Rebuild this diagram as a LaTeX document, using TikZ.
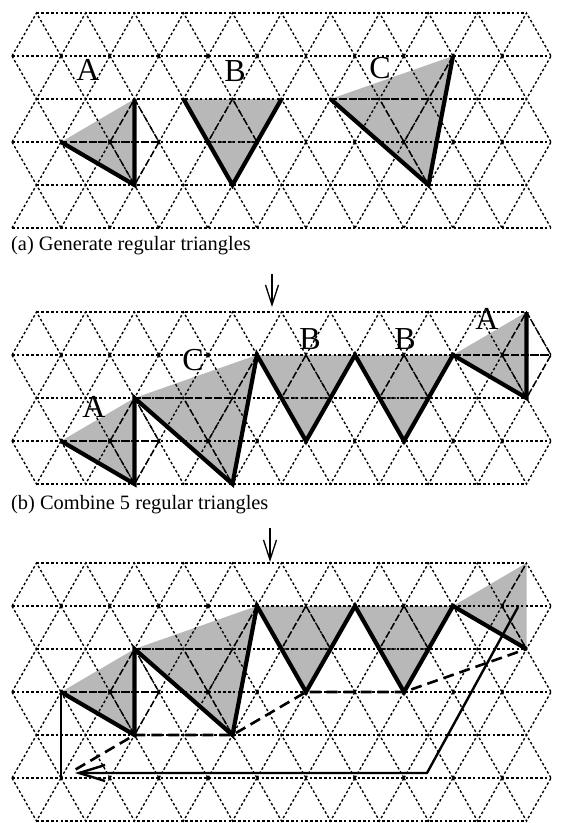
\documentclass[tikz,border=0pt]{standalone}
\usepackage{fontspec}
\setmainfont{Liberation Serif}
\usetikzlibrary{arrows.meta}

% triangular lattice, #1 = number of triangle rows
\newcommand{\trigrid}[1]{%
  \foreach \j in {0,...,#1} {
    \pgfmathsetmacro{\xs}{mod(\j,2)==0 ? 0.5 : 0}
    \pgfmathsetmacro{\xe}{mod(\j,2)==0 ? 10.5 : 11}
    \draw[gridline] (\xs,\j) -- (\xe,\j);
  }
  \pgfmathtruncatemacro{\lastrow}{#1-1}
  \foreach \j in {0,...,\lastrow} {
    \pgfmathtruncatemacro{\rowodd}{mod(\j,2)==1 ? \j : \j+1}
    \pgfmathtruncatemacro{\roweven}{mod(\j,2)==0 ? \j : \j+1}
    \foreach \k in {0,...,10} {
      \draw[gridline] (\k,\rowodd) -- (\k+0.5,\roweven) -- (\k+1,\rowodd);
    }
  }
}

\begin{document}
\begin{tikzpicture}[x=1pt, y=-1pt,
    gridline/.style={line width=1.35pt, dash pattern=on 2.6pt off 2.2pt},
    stipple/.style={fill=black!28},
    rim/.style={line width=4.2pt, line join=miter, miter limit=4},
    guideline/.style={line width=1.4pt, dash pattern=on 6pt off 4pt},
    tag/.style={font=\fontsize{32}{34}\selectfont, inner sep=0pt},
    capt/.style={font=\fontsize{20.4}{22}\selectfont, anchor=west, inner sep=0pt},
    panel/.style={x={(49pt,0pt)}, y={(0pt,-43pt)}},
    step arrow/.style={line width=1.3pt, -{Straight Barb[length=20pt,width=13pt]}}]
\useasboundingbox (0,0) rectangle (573,823);

% (a) single triangles
\begin{scope}[shift={(12,13)}, panel]
  \fill[stipple] (1,3) -- (2.5,2) -- (2.5,4) -- cycle;
  \fill[stipple] (3.5,2) -- (5.5,2) -- (4.5,4) -- cycle;
  \fill[stipple] (6.5,2) -- (9,1) -- (8.5,4) -- cycle;
  \trigrid{5}
  \draw[guideline] (1,3) -- (3,3);
  \draw[guideline] (2,3) -- (2.5,2) -- (3,3) -- (2.5,4) -- (2,3);
  \draw[guideline] (4.5,2) -- (4,3) -- (5,3) -- cycle;
  \draw[guideline] (6.5,2) -- (8.5,2);
  \draw[guideline] (9,1) -- (8,3) -- (8.5,4);
  \draw[guideline] (8,3) -- (7.5,2);
  \draw[rim] (1,3) -- (2.5,4) -- (2.5,2);
  \draw[rim] (3.5,2) -- (4.5,4) -- (5.5,2);
  \draw[rim] (6.5,2) -- (8.5,4) -- (9,1);
\end{scope}
\node[tag] (ta) at (88,70) {A};
\node[tag] (tb) at (235,71) {B};
\node[tag] (tc) at (380,68) {C};
\node[capt] (capa) at (11,246) {(a) Generate regular triangles};

\coordinate (arra) at (272,274);
\coordinate (arrb) at (272,307);
\draw[step arrow] (arra) -- (arrb);

% (b) five triangles combined
\begin{scope}[shift={(12,312)}, panel]
  \fill[stipple] (1,3) -- (2.5,2) -- (2.5,4) -- cycle;
  \fill[stipple] (2.5,2) -- (5,1) -- (4.5,4) -- cycle;
  \fill[stipple] (5,1) -- (7,1) -- (6,3) -- cycle;
  \fill[stipple] (7,1) -- (9,1) -- (8,3) -- cycle;
  \fill[stipple] (9,1) -- (10.5,0) -- (10.5,2) -- cycle;
  \trigrid{4}
  \draw[guideline] (1,3) -- (3,3);
  \draw[guideline] (2,3) -- (2.5,2) -- (3,3) -- (2.5,4) -- (2,3);
  \draw[guideline] (2.5,2) -- (4.5,2);
  \draw[guideline] (5,1) -- (4,3) -- (4.5,4);
  \draw[guideline] (4,3) -- (3.5,2);
  \draw[guideline] (6,1) -- (5.5,2) -- (6.5,2) -- cycle;
  \draw[guideline] (8,1) -- (7.5,2) -- (8.5,2) -- cycle;
  \draw[guideline] (9,1) -- (11,1);
  \draw[guideline] (10,1) -- (10.5,0) -- (11,1) -- (10.5,2) -- (10,1);
  \draw[rim] (1,3) -- (2.5,4) -- (2.5,2) -- (4.5,4) -- (5,1) -- (6,3) -- (7,1)
    -- (8,3) -- (9,1) -- (10.5,2) -- (10.5,0);
\end{scope}
\node[tag] (tba) at (94,407) {A};
\node[tag] (tbc) at (193,360) {C};
\node[tag] (tbb) at (310,339) {B};
\node[tag] (tbd) at (405,339) {B};
\node[tag] (tbe) at (487,319) {A};
\node[capt] (capb) at (11,505) {(b) Combine 5 regular triangles};

\coordinate (arrc) at (270,528);
\coordinate (arrd) at (270,562);
\draw[step arrow] (arrc) -- (arrd);

% (c) closing the polygon
\begin{scope}[shift={(12,563)}, panel]
  \fill[stipple] (1,3) -- (2.5,2) -- (2.5,4) -- cycle;
  \fill[stipple] (2.5,2) -- (5,1) -- (4.5,4) -- cycle;
  \fill[stipple] (5,1) -- (7,1) -- (6,3) -- cycle;
  \fill[stipple] (7,1) -- (9,1) -- (8,3) -- cycle;
  \fill[stipple] (9,1) -- (10.5,0) -- (10.5,2) -- cycle;
  \trigrid{6}
  \draw[guideline] (1,3) -- (3,3);
  \draw[guideline] (2,3) -- (2.5,2) -- (3,3) -- (2.5,4) -- (2,3);
  \draw[guideline] (2.5,2) -- (4.5,2);
  \draw[guideline] (5,1) -- (4,3) -- (4.5,4);
  \draw[guideline] (4,3) -- (3.5,2);
  \draw[guideline] (6,1) -- (5.5,2) -- (6.5,2) -- cycle;
  \draw[guideline] (8,1) -- (7.5,2) -- (8.5,2) -- cycle;
  \draw[guideline] (10,1) -- (10.5,0);
  \draw[guideline] (10,1) -- (10.5,2);
  \draw[line width=2.6pt, dash pattern=on 11pt off 6pt] (1.3,4.8) -- (2.5,4) -- (4.5,4)
    -- (6,3) -- (8,3) -- (10.5,2);
  \draw[line width=2.8pt] (1,3) -- (1,5);
  \draw[rim] (1,3) -- (2.5,4) -- (2.5,2) -- (4.5,4) -- (5,1) -- (6,3) -- (7,1)
    -- (8,3) -- (9,1) -- (10.5,2);
\end{scope}
\coordinate (sa) at (518,607);
\coordinate (sb) at (427,773);
\coordinate (sc) at (75,773);
\draw[line width=2.4pt, -{Straight Barb[length=26pt,width=16pt]}] (sa) -- (sb) -- (sc);
\end{tikzpicture}
\end{document}
